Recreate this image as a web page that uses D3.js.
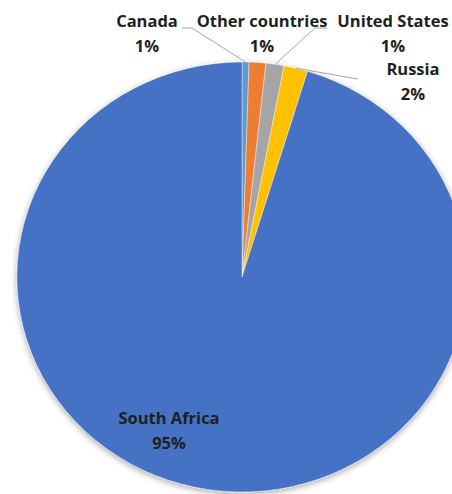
<!DOCTYPE html>
<html>
<head>
<meta charset="utf-8">
<script src="https://cdn.jsdelivr.net/npm/d3@7"></script>
<style>
  html, body { margin: 0; padding: 0; background: #fff; }
  svg { display: block; }
</style>
</head>
<body>
<svg id="chart" width="452" height="494"></svg>
<script>
// Share of world production by country (percent), clockwise from 12 o'clock
const countries = ["Canada", "United States", "Other countries", "Russia", "South Africa"];
const shares    = [0.5, 1.2, 1.3, 1.7, 95.3];
const colors    = ["#5B9BD5", "#ED7D31", "#A5A5A5", "#FFC000", "#4472C4"];

const W = 452, H = 494;
const cx = 242, cy = 277;      // pie centre
const ry = 215;                // vertical radius
const sx = 1.047;              // horizontal stretch of the pie

const svg = d3.select("#chart");

const defs = svg.append("defs");
const f = defs.append("filter").attr("id", "shadow")
  .attr("x", "-10%").attr("y", "-10%").attr("width", "120%").attr("height", "120%");
f.append("feDropShadow").attr("dx", 0).attr("dy", 2).attr("stdDeviation", 3)
  .attr("flood-color", "#000").attr("flood-opacity", 0.35);

const data = countries.map((c, i) => ({ name: c, value: shares[i], color: colors[i] }));

const pie = d3.pie().value(d => d.value).sort(null);
const arcs = pie(data);
const arc = d3.arc().innerRadius(0).outerRadius(ry);

const g = svg.append("g")
  .attr("transform", `translate(${cx},${cy}) scale(${sx},1)`)
  .attr("filter", "url(#shadow)");

g.selectAll("path")
  .data(arcs)
  .join("path")
  .attr("d", arc)
  .attr("fill", d => d.data.color)
  .attr("stroke", "#fff")
  .attr("stroke-width", 0.4);

// point on the rim at the middle of a slice, in page coordinates
function rimPoint(a) {
  const m = (a.startAngle + a.endAngle) / 2;
  return [cx + sx * ry * Math.sin(m), cy - ry * Math.cos(m)];
}

// label placement (name line baseline; value sits one line below)
const labelPos = {
  "Canada":          { x: 147, y: 27, leader: [[182, 28], [192, 28]] },
  "Other countries": { x: 262, y: 27, leader: [[327, 28], [315, 28]] },
  "United States":   { x: 393, y: 27, leader: null },
  "Russia":          { x: 413, y: 75, leader: [[358, 79]] },
  "South Africa":    { x: 169, y: 424, leader: null }
};

const pct = d3.format(".0f");

const leaderLine = d3.line();
arcs.forEach(a => {
  const p = labelPos[a.data.name];
  if (p.leader) {
    svg.append("path")
      .attr("d", leaderLine([...p.leader, rimPoint(a)]))
      .attr("fill", "none")
      .attr("stroke", "#A6A6A6")
      .attr("stroke-width", 1);
  }
});

const labels = svg.append("g")
  .attr("font-family", "'Open Sans', sans-serif")
  .attr("font-weight", "bold")
  .attr("font-size", 16.5)
  .attr("fill", "#1f1f1f")
  .attr("text-anchor", "middle");

arcs.forEach(a => {
  const p = labelPos[a.data.name];
  const t = labels.append("text").attr("x", p.x).attr("y", p.y);
  t.append("tspan").attr("x", p.x).text(a.data.name);
  t.append("tspan").attr("x", p.x).attr("dy", 25).text(pct(a.data.value) + "%");
});
</script>
</body>
</html>
